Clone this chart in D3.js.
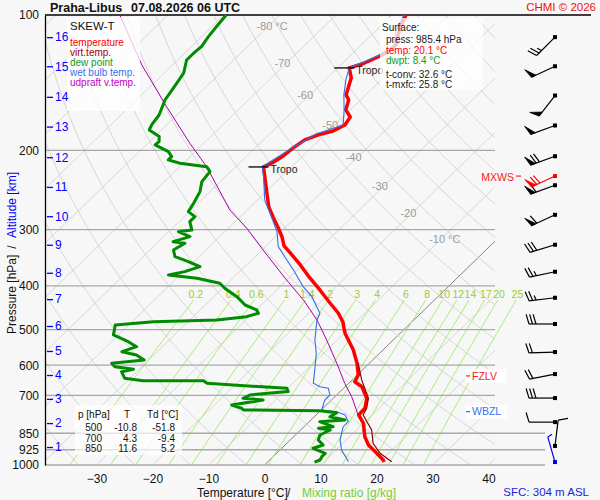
<!DOCTYPE html>
<html>
<head>
<meta charset="utf-8">
<script src="https://cdn.jsdelivr.net/npm/d3@7"></script>
<style>
  body { margin: 0; background: #f7f7f7; }
  svg { display: block; font-family: "Liberation Sans", Arial, sans-serif; }
</style>
</head>
<body>
<svg id="chart" width="600" height="500"></svg>
<script>
// temperature profile (hPa, °C)
const tempP = [100,106.8,116.6,120.8,123.9,128.5,131.1,138,145.3,150.5,154.5,162.5,168.5,175.5,181,184.7,189.5,197.4,205.7,213.2,217.6,232.6,251.1,267,281.1,295.8,311.4,326,337.9,359.3,384,408.4,436.5,459.4,481,501,510,555,594,631,653,670,711,748,774,808,865,903,942,975,985.4];
const tempT = [-57.5,-56.2,-53.8,-53.9,-54.8,-56.3,-57.9,-55.7,-54.4,-53.5,-52.1,-50.8,-48.7,-48.2,-49.2,-51.1,-52.6,-53.2,-53.5,-54.2,-55.0,-52.3,-49.2,-46.7,-44.1,-41.4,-38.8,-36.8,-34.4,-30.4,-26.3,-22.3,-18.1,-14.8,-12.3,-10.6,-9.8,-5.3,-2.2,0.2,0.8,3.0,6.0,7.5,7.6,10.0,12.7,14.9,17.9,20.3,20.8];

// virtual temperature (lower part, where it separates from T)
const virtP = [594,647,711,748,774,836,895,942,983];
const virtT = [-2.0,1.7,6.3,7.8,8.4,12.7,15.4,18.5,22.1];

// dew point
const dewP = [100,106.1,111.7,117.6,121.6,125.9,134.7,145.5,154.5,166.8,175.5,180.1,186.3,191.2,194.4,201.2,206.4,209.9,213.5,217.3,222.9,234.6,246.9,262,273.5,280.6,287.9,300.4,303,310.9,318.9,321.5,332.8,344.4,353.3,362.5,371.8,378.2,384.6,394.6,404.8,422.6,441,452.4,460.1,468.1,476.1,480.3,488.5,514.1,532.1,545.9,560,569.5,584.3,594.2,604.6,612.8,620.3,641.7,649.6,649.6,658.3,664,675.4,686.5,698.9,710.8,717,735.6,748.1,754.7,757.4,765.1,781,794.3,801.2,822,828.8,836,857.7,879.9,902.7,918.1,941.9,958.4,974.7,985.4];
const dewT = [-89.6,-89.2,-88.8,-88.2,-88.4,-88.4,-86.5,-85.6,-84.9,-83.2,-82.7,-82.2,-79.2,-78.3,-78.4,-74.8,-73.3,-73.3,-70.6,-65.2,-63.7,-63.3,-61.8,-60.8,-60.2,-58.1,-58.1,-56.2,-58.3,-55.3,-57.4,-55.0,-55.8,-54.3,-51.0,-48.0,-49.8,-52.1,-46.4,-41.4,-39.6,-35.9,-32.9,-29.9,-29.0,-30.5,-35.2,-46.2,-52.4,-50.9,-47.0,-44.6,-46.3,-43.1,-40.8,-46.0,-44.8,-41.0,-42.7,-40.9,-37.2,-26.4,-25.3,-20.3,-10.1,-9.3,-15.5,-16.1,-12.2,-16.9,-14.5,-13.9,-0.1,3.3,2.8,6.1,1.9,5.2,2.9,5.3,4.4,5.0,6.8,5.6,8.7,8.7,9.0,8.4];

// wet bulb temperature
const wbP = [100,107.9,116.6,123.3,131.1,139.4,150.5,162.5,175.5,183.8,197.4,212.1,217.6,228.7,257.7,275.8,303,327.2,344.4,368.6,401.5,422.6,444.8,460.1,476.1,527.4,564.6,615,658.3,669.9,675.4,698.9,717,754.7,761.3,774.2,801.2,822,879.9,926.1,983.2];
const wbT = [-57.9,-56.5,-54.1,-55.0,-57.9,-56.3,-53.9,-51.1,-48.5,-51.7,-53.4,-54.8,-55.2,-53.2,-48.7,-45.3,-40.7,-37.7,-34.7,-30.7,-25.9,-22.5,-19.8,-18.0,-17.3,-14.0,-11.3,-8.5,-6.3,-4.5,-2.7,-1.2,-1.2,0.1,3.1,5.2,7.0,7.0,8.9,11.0,14.4];

// updraft virtual temperature (parcel)
const parcelP = [100,129.1,159.8,192.8,217.3,271.2,297.8,332.8,388,429.8,476.1,527.4,594.2,658.3,705,754.7,781];
const parcelT = [-108.6,-95.5,-83.4,-72.5,-65.2,-53.1,-46.7,-39.8,-30.1,-23.4,-17.3,-11.9,-5.8,-0.7,3.0,6.3,7.9];

// winds (hPa, deg, kt)
const windP = [112,130,151,176,206,239,278,324,372,425,486,561,628,710,803,907,985];
const windDir = [225,245,218,250,250,250,245,253,258,263,270,268,259,270,270,7,344];
const windKt = [25,50,50,50,70,60,60,30,25,25,30,20,20,30,10,10,5];
const mxwsP = 228, mxwsDir = 245, mxwsKt = 70;

// special levels
const tropoP = [131.1, 217.6];
const fzlvP = 634, wbzlP = 761;

// axes and grid labels
const pressTicks = [100,200,300,400,500,600,700,850,925,1000];
const tempTicks = [-30,-20,-10,0,10,20,30,40];
const altKm = [1,2,3,4,5,6,7,8,9,10,11,12,13,14,15,16];
const altP = [912,807,713,631,558,491,428,374,324,280,241,207,177,152,130,112];
const isoLabelT = [-80,-70,-60,-50,-40,-30,-20,-10];
const isoLabelP = [106,128,151,176,207,240,275,315];
const mixW = [0.2,0.4,0.6,1,1.4,2,3,4,6,8,10,12,14,17,20,25];

// surface and table values
const sfcPress = 985.4, sfcTemp = 20.1, sfcDwpt = 8.4, tConv = 32.6, tMxfc = 25.8;
const tableP = [500,700,850];
const tableT = [-10.8,4.3,11.6];
const tableTd = [-51.8,-9.4,5.2];

const plotL = 45, plotR = 495, plotT = 15, plotB = 465;
const skew = 1.03;
const boxFont = 10;

const svg = d3.select('#chart');
svg.append('rect').attr('width', 600).attr('height', 500).attr('fill', '#f7f7f7');

const y = d3.scaleLog().domain([1000, 100]).range([plotB, plotT]);
const xT = d3.scaleLinear().domain([-40, 40]).range([264.5 - 224, 264.5 + 224]);
const sx = (t, p) => xT(t) + skew * (plotB - y(p));
const line = d3.line().x(d => sx(d.t, d.p)).y(d => y(d.p));
const zipP = (ps, ts) => ps.map((p, i) => ({p: p, t: ts[i]}));

svg.append('defs').append('clipPath').attr('id', 'plotclip')
  .append('rect').attr('x', plotL).attr('y', plotT).attr('width', plotR - plotL).attr('height', plotB - plotT);

const grid = svg.append('g').attr('clip-path', 'url(#plotclip)');

// isotherms
d3.range(-150, 50, 10).forEach(t => {
  grid.append('line')
    .attr('x1', sx(t, 1000)).attr('y1', y(1000))
    .attr('x2', sx(t, 100)).attr('y2', y(100))
    .attr('stroke', t === 0 ? '#777' : '#d6d6d6')
    .attr('stroke-width', t === 0 ? 0.9 : 1);
});

// dry adiabats
const pGrid = d3.range(100, 1001, 10);
d3.range(230, 460, 10).forEach(th => {
  grid.append('path')
    .attr('d', line(pGrid.map(p => ({p: p, t: th * Math.pow(p / 1000, 0.2857) - 273.15}))))
    .attr('fill', 'none').attr('stroke', '#d6d6d6');
});

// mixing ratio lines
const tdFromW = (w, p) => {
  const e = w * p / (622 + w);
  const l = Math.log(e / 6.112);
  return 243.5 * l / (17.67 - l);
};
const pMix = d3.range(430, 1001, 10);
const mix = svg.append('g');
mixW.forEach(w => {
  mix.append('path')
    .attr('d', line(pMix.map(p => ({p: p, t: tdFromW(w, p)}))))
    .attr('fill', 'none').attr('stroke', '#a6ee78').attr('stroke-width', 1);
  mix.append('text')
    .attr('x', sx(tdFromW(w, 418), 418) - 2).attr('y', y(418))
    .attr('dy', '0.35em').attr('text-anchor', 'middle')
    .attr('font-size', 10.5).attr('fill', '#99cc33')
    .text(w);
});

// isotherm labels
isoLabelT.forEach((t, i) => {
  svg.append('text')
    .attr('x', sx(t, isoLabelP[i]) + 4).attr('y', y(isoLabelP[i]))
    .attr('dy', '0.35em').attr('text-anchor', 'end')
    .attr('font-size', 11).attr('fill', '#9a9a9a')
    .text(t);
  if (t === -80 || t === -10) {
    svg.append('text')
      .attr('x', sx(t, isoLabelP[i]) + 7).attr('y', y(isoLabelP[i]))
      .attr('dy', '0.35em').attr('font-size', 11).attr('fill', '#9a9a9a')
      .text('°C');
  }
});

// pressure lines
pressTicks.forEach(p => {
  svg.append('line')
    .attr('x1', plotL).attr('x2', p === 100 ? 591 : (p >= 850 ? 545 : plotR))
    .attr('y1', y(p)).attr('y2', y(p))
    .attr('stroke', p === 100 ? '#000' : '#a8a8a8')
    .attr('stroke-width', 1.3);
});

// profiles
svg.append('path').attr('d', line(zipP(parcelP, parcelT)))
  .attr('fill', 'none').attr('stroke', '#aa00aa').attr('stroke-width', 1);
svg.append('path').attr('d', line(zipP(tempP, tempT)))
  .attr('fill', 'none').attr('stroke', '#ff0000').attr('stroke-width', 3.5)
  .attr('stroke-linejoin', 'round');
svg.append('path').attr('d', line(zipP(virtP, virtT)))
  .attr('fill', 'none').attr('stroke', '#990000').attr('stroke-width', 1.2);
svg.append('path').attr('d', line(zipP(wbP, wbT)))
  .attr('fill', 'none').attr('stroke', '#2f6fe8').attr('stroke-width', 1.1);
svg.append('path').attr('d', line(zipP(dewP, dewT)))
  .attr('fill', 'none').attr('stroke', '#008c00').attr('stroke-width', 3)
  .attr('stroke-linejoin', 'round');

// tropopause
tropoP.forEach(p => {
  const t = tempT[tempP.indexOf(p)];
  const x = sx(t, p);
  svg.append('line').attr('x1', x - 15).attr('x2', x + 5)
    .attr('y1', y(p)).attr('y2', y(p)).attr('stroke', '#000').attr('stroke-width', 1.3);
  svg.append('text').attr('x', x + 7).attr('y', y(p) + 2).attr('dy', '0.35em')
    .attr('font-size', 10.5).attr('fill', '#222').text('Tropo');
});

// legend box
svg.append('rect').attr('x', 67).attr('y', 17).attr('width', 73).attr('height', 94)
  .attr('fill', '#fff').attr('opacity', 0.75);
svg.append('text').attr('x', 70).attr('y', 26).attr('dy', '0.35em')
  .attr('font-size', 11.5).attr('fill', '#111').text('SKEW-T');
[['temperature', '#ff0000'], ['virt.temp.', '#a00000'], ['dew point', '#1a9a1a'],
 ['wet bulb temp.', '#3a70ee'], ['udpraft v.temp.', '#c000c0']].forEach((d, i) => {
  svg.append('text').attr('x', 70).attr('y', 42 + i * 10).attr('dy', '0.35em')
    .attr('font-size', boxFont).attr('fill', d[1]).text(d[0]);
});

// surface box
svg.append('rect').attr('x', 380).attr('y', 18).attr('width', 103).attr('height', 72)
  .attr('fill', '#fff').attr('opacity', 0.75);
const sfcLines = [
  ['Surface:', 382, 27, '#222'],
  ['press: ' + sfcPress.toFixed(1) + ' hPa', 386, 39.5, '#222'],
  ['temp: ' + sfcTemp.toFixed(1) + ' °C', 386, 50, '#ff0000'],
  ['dwpt: ' + sfcDwpt.toFixed(1) + ' °C', 386, 60.5, '#1a9a1a'],
  ['t-conv: ' + tConv.toFixed(1) + ' °C', 386, 74, '#222'],
  ['t-mxfc: ' + tMxfc.toFixed(1) + ' °C', 386, 84.5, '#222']
];
sfcLines.forEach(d => {
  svg.append('text').attr('x', d[1]).attr('y', d[2]).attr('dy', '0.35em')
    .attr('font-size', boxFont).attr('fill', d[3]).text(d[0]);
});

// table
svg.append('rect').attr('x', 75).attr('y', 405).attr('width', 107).attr('height', 50)
  .attr('fill', '#fff').attr('opacity', 0.7);
const tg = svg.append('g').attr('font-size', boxFont).attr('fill', '#111');
tg.append('text').attr('x', 78).attr('y', 414).attr('dy', '0.35em').text('p [hPa]');
tg.append('text').attr('x', 127).attr('y', 414).attr('dy', '0.35em').attr('text-anchor', 'middle').text('T');
tg.append('text').attr('x', 147).attr('y', 414).attr('dy', '0.35em').text('Td [°C]');
tableP.forEach((p, i) => {
  const ty = 427.5 + i * 10.5;
  tg.append('text').attr('x', 102).attr('y', ty).attr('dy', '0.35em').attr('text-anchor', 'end').text(p);
  tg.append('text').attr('x', 137).attr('y', ty).attr('dy', '0.35em').attr('text-anchor', 'end').text(tableT[i].toFixed(1));
  tg.append('text').attr('x', 175).attr('y', ty).attr('dy', '0.35em').attr('text-anchor', 'end').text(tableTd[i].toFixed(1));
});

// freezing / wet bulb zero levels
[[fzlvP, 'FZLV', '#ff2020'], [wbzlP, 'WBZL', '#3a70ee']].forEach(d => {
  const ly = y(d[0]);
  svg.append('rect').attr('x', 465).attr('y', ly - 7).attr('width', 42).attr('height', 14)
    .attr('fill', '#fff').attr('opacity', 0.8);
  svg.append('line').attr('x1', 466).attr('x2', 470).attr('y1', ly).attr('y2', ly)
    .attr('stroke', d[2]).attr('stroke-width', 1.2);
  svg.append('text').attr('x', 472).attr('y', ly).attr('dy', '0.35em')
    .attr('font-size', 10.5).attr('fill', d[2]).text(d[1]);
});
svg.append('text').attr('x', 514).attr('y', y(mxwsP) + 1).attr('dy', '0.35em')
  .attr('text-anchor', 'end').attr('font-size', 10.5).attr('fill', '#ff2020').text('MXWS');
svg.append('line').attr('x1', 516).attr('x2', 521).attr('y1', y(mxwsP)).attr('y2', y(mxwsP))
  .attr('stroke', '#ff2020').attr('stroke-width', 1.2);

// wind barbs
const barbs = svg.append('g');
function barb(p, dir, kt, color) {
  const cx = 555, cy = y(p), L = 26;
  const a = dir * Math.PI / 180;
  const s = [Math.sin(a), -Math.cos(a)];
  const n = [-s[1], s[0]];
  const lean = 0.3;
  const f = [n[0] + s[0] * lean, n[1] + s[1] * lean];
  const fl = Math.hypot(f[0], f[1]);
  f[0] /= fl; f[1] /= fl;
  const pt = t => [cx + s[0] * t, cy + s[1] * t];
  const tail = pt(L);
  barbs.append('line').attr('x1', cx).attr('y1', cy).attr('x2', tail[0]).attr('y2', tail[1])
    .attr('stroke', color).attr('stroke-width', 1.2);
  barbs.append('rect').attr('x', cx - 2).attr('y', cy - 2).attr('width', 4).attr('height', 4)
    .attr('fill', color);
  let t = L, rest = Math.round(kt / 5) * 5;
  while (rest >= 50) {
    const b0 = pt(t), b1 = pt(t - 5);
    const tip = [b0[0] + f[0] * 10, b0[1] + f[1] * 10];
    barbs.append('polygon').attr('points', [b0, tip, b1].map(q => q.join(',')).join(' '))
      .attr('fill', color).attr('stroke', color).attr('stroke-width', 0.8);
    t -= 6; rest -= 50;
  }
  while (rest >= 10) {
    const b0 = pt(t);
    barbs.append('line').attr('x1', b0[0]).attr('y1', b0[1])
      .attr('x2', b0[0] + f[0] * 10).attr('y2', b0[1] + f[1] * 10)
      .attr('stroke', color).attr('stroke-width', 1.2);
    t -= 3.5; rest -= 10;
  }
  if (rest >= 5) {
    const b0 = pt(t);
    barbs.append('line').attr('x1', b0[0]).attr('y1', b0[1])
      .attr('x2', b0[0] + f[0] * 5).attr('y2', b0[1] + f[1] * 5)
      .attr('stroke', color).attr('stroke-width', 1.2);
  }
}
windP.forEach((p, i) => {
  barb(p, windDir[i], windKt[i], i === windP.length - 1 ? '#0000ee' : '#000');
});
barb(mxwsP, mxwsDir, mxwsKt, '#ff0000');

// axes
const yAxis = svg.append('g').attr('transform', 'translate(' + plotL + ',0)')
  .call(d3.axisLeft(y).tickValues(pressTicks).tickFormat(d3.format('d')).tickSize(0).tickPadding(6));
yAxis.select('.domain').attr('stroke', '#000').attr('stroke-width', 1.3);
yAxis.selectAll('text').attr('font-size', 12).attr('fill', '#111');
yAxis.attr('font-family', null);

const altAxis = svg.append('g').attr('transform', 'translate(' + (plotL + 2) + ',0)')
  .call(d3.axisRight(y).tickValues(altP).tickFormat((d, i) => altKm[i]).tickSize(6).tickPadding(2));
altAxis.select('.domain').remove();
altAxis.selectAll('line').attr('stroke', '#0000ff').attr('stroke-width', 1.3);
altAxis.selectAll('text').attr('font-size', 12).attr('fill', '#0000ff');
altAxis.attr('font-family', null);

const xAxis = svg.append('g').attr('transform', 'translate(0,' + plotB + ')')
  .call(d3.axisBottom(xT).tickValues(tempTicks).tickSize(0).tickPadding(9));
xAxis.select('.domain').remove();
xAxis.selectAll('text').attr('font-size', 12).attr('fill', '#111');
xAxis.attr('font-family', null);

// axis titles
svg.append('text').attr('x', 197).attr('y', 497).attr('font-size', 12).attr('fill', '#111').text('Temperature [°C]');
svg.append('text').attr('x', 287).attr('y', 497).attr('font-size', 12).attr('fill', '#111').text('/');
svg.append('text').attr('x', 302).attr('y', 497).attr('font-size', 12).attr('fill', '#77cc33').text('Mixing ratio [g/kg]');

const yt = svg.append('g').attr('transform', 'translate(16,0) rotate(-90)');
yt.append('text').attr('x', -334).attr('y', 0).attr('font-size', 12).attr('fill', '#111').text('Pressure [hPa]');
yt.append('text').attr('x', -247).attr('y', 0).attr('font-size', 12).attr('fill', '#111').attr('text-anchor', 'middle').text('/');
yt.append('text').attr('x', -238).attr('y', 0).attr('font-size', 12).attr('fill', '#0000ff').text('Altitude [km]');

// titles
svg.append('text').attr('x', 50).attr('y', 12).attr('font-size', 12.5).attr('font-weight', 'bold')
  .attr('fill', '#111').text('Praha-Libus');
svg.append('text').attr('x', 131).attr('y', 12).attr('font-size', 12.5).attr('font-weight', 'bold')
  .attr('fill', '#111').text('07.08.2026 06 UTC');
svg.append('text').attr('x', 596).attr('y', 11).attr('text-anchor', 'end').attr('font-size', 11.5)
  .attr('fill', '#ee1111').text('CHMI © 2026');
svg.append('text').attr('x', 589).attr('y', 496).attr('text-anchor', 'end').attr('font-size', 11.5)
  .attr('fill', '#2222dd').text('SFC: 304 m ASL');
</script>
</body>
</html>
